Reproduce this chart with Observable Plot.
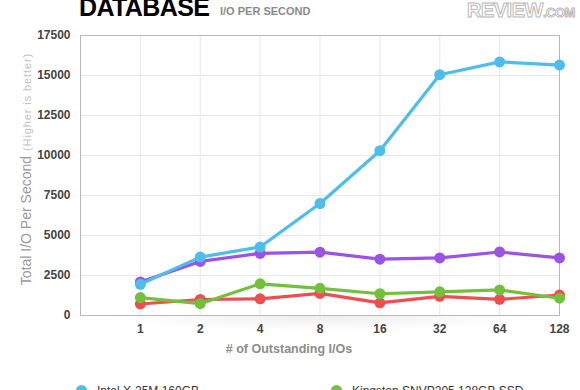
<!DOCTYPE html>
<html>
<head>
<meta charset="utf-8">
<script src="https://cdn.jsdelivr.net/npm/d3@7"></script>
<script src="https://cdn.jsdelivr.net/npm/@observablehq/plot@0.6"></script>
<style>
  html, body { margin: 0; padding: 0; background: #fff; overflow: hidden; }
  body { width: 580px; height: 390px; position: relative; font-family: "Liberation Sans", Arial, sans-serif; }
  #chart { position: absolute; left: 0; top: 0; }
  .shadow { position: absolute; left: 100px; top: 315px; width: 440px; height: 16px; background: radial-gradient(ellipse 50% 100% at 50% 0%, rgba(0,0,0,0.07), rgba(0,0,0,0)); }
  .title { position: absolute; left: 79px; top: -7px; font-size: 25px; font-weight: 900; color: #000; letter-spacing: -0.6px; }
  .subtitle { position: absolute; left: 220px; top: 5px; font-size: 11px; font-weight: bold; color: #8a8a8a; }
  .logo { position: absolute; left: 467px; top: 0px; font-size: 20px; font-weight: 900; color: #fff; -webkit-text-stroke: 1px #b8b8b8; letter-spacing: -0.5px; line-height: 20px; }
  .logo small { font-size: 13px; }
  .ylabel { position: absolute; left: 26px; top: 169px; transform: translate(-50%, -50%) rotate(-90deg); white-space: nowrap; color: #999; font-size: 14px; }
  .ylabel span { color: #c2c2c2; font-size: 11px; letter-spacing: 0.9px; margin-left: 5px; }
  .legend { position: absolute; top: 384px; left: 0; width: 580px; font-size: 12px; color: #333; }
  .item { position: absolute; white-space: nowrap; }
  .item i { display: inline-block; width: 11px; height: 11px; border-radius: 50%; margin-right: 10px; vertical-align: -1px; }
</style>
</head>
<body>
<div class="shadow"></div>
<div id="chart"></div>
<div class="title">DATABASE</div>
<div class="subtitle">I/O PER SECOND</div>
<div class="logo">REVIEW<small>.COM</small></div>
<div class="ylabel">Total I/O Per Second<span>(Higher is better)</span></div>
<div class="legend" id="legend"></div>
<script>
// Categories (outstanding I/Os) and their plotting index
const xLabels = ["1", "2", "4", "8", "16", "32", "64", "128"];
const xIndex = [0, 1, 2, 3, 4, 5, 6, 7];
const yTicks = [0, 2500, 5000, 7500, 10000, 12500, 15000, 17500];

// Series values
const intelX25M = [1950, 3650, 4280, 7000, 10300, 15050, 15850, 15650];
const purpleSeries = [2100, 3380, 3880, 3960, 3520, 3600, 3970, 3600];
const kingstonSSD = [1120, 740, 1980, 1700, 1360, 1480, 1600, 1080];
const redSeries = [720, 1000, 1040, 1380, 790, 1200, 1010, 1280];

const seriesNames = ["Intel X-25M 160GB", "Kingston SNVP205 128GB SSD", "red", "purple"];
const seriesValues = [intelX25M, kingstonSSD, redSeries, purpleSeries];
const seriesColors = ["#4dbdec", "#72c13c", "#ee4e50", "#9b52e6"];
const drawOrder = [2, 1, 3, 0];

const rows = [];
drawOrder.forEach(s => {
  seriesValues[s].forEach((v, i) => rows.push({series: seriesNames[s], x: xIndex[i], y: v, order: s}));
});

const marks = [
  Plot.gridY(yTicks, {stroke: "#e8e8e8", strokeOpacity: 1}),
  Plot.gridX(xIndex, {stroke: "#e8e8e8", strokeOpacity: 1}),
  Plot.frame({stroke: "#b8b8b8"}),
  Plot.axisY(yTicks, {tickSize: 0, tickPadding: 10, label: null, fill: "#444", fontSize: 12, fontWeight: "bold", tickFormat: d => String(d)}),
  Plot.axisX(xIndex, {tickSize: 0, tickPadding: 9, label: null, fill: "#444", fontSize: 12, fontWeight: "bold", tickFormat: i => xLabels[i]}),
  Plot.text(["# of Outstanding I/Os"], {frameAnchor: "bottom", dy: 37, dx: -31, fill: "#8c8c8c", fontSize: 12.5, fontWeight: "bold"})
];
drawOrder.forEach(s => {
  const data = rows.filter(r => r.order === s);
  marks.push(Plot.line(data, {x: "x", y: "y", stroke: seriesColors[s], strokeWidth: 3.2}));
  marks.push(Plot.dot(data, {x: "x", y: "y", fill: seriesColors[s], r: 5.5}));
});

const chart = Plot.plot({
  width: 580,
  height: 365,
  marginLeft: 80,
  marginRight: 21,
  marginTop: 35,
  marginBottom: 50,
  x: {type: "linear", domain: [-1, 7]},
  y: {domain: [0, 17500]},
  style: {fontFamily: "Liberation Sans, Arial, sans-serif", background: "transparent"},
  marks
});
document.getElementById("chart").appendChild(chart);

// Legend (only the first row falls inside the visible window)
const legend = document.getElementById("legend");
const legendPos = [[76, 0], [331, 0]];
legendPos.forEach((p, k) => {
  const d = document.createElement("div");
  d.className = "item";
  d.style.left = p[0] + "px";
  d.style.top = p[1] + "px";
  d.innerHTML = `<i style="background:${seriesColors[k]}"></i>${seriesNames[k]}`;
  legend.appendChild(d);
});
</script>
</body>
</html>
